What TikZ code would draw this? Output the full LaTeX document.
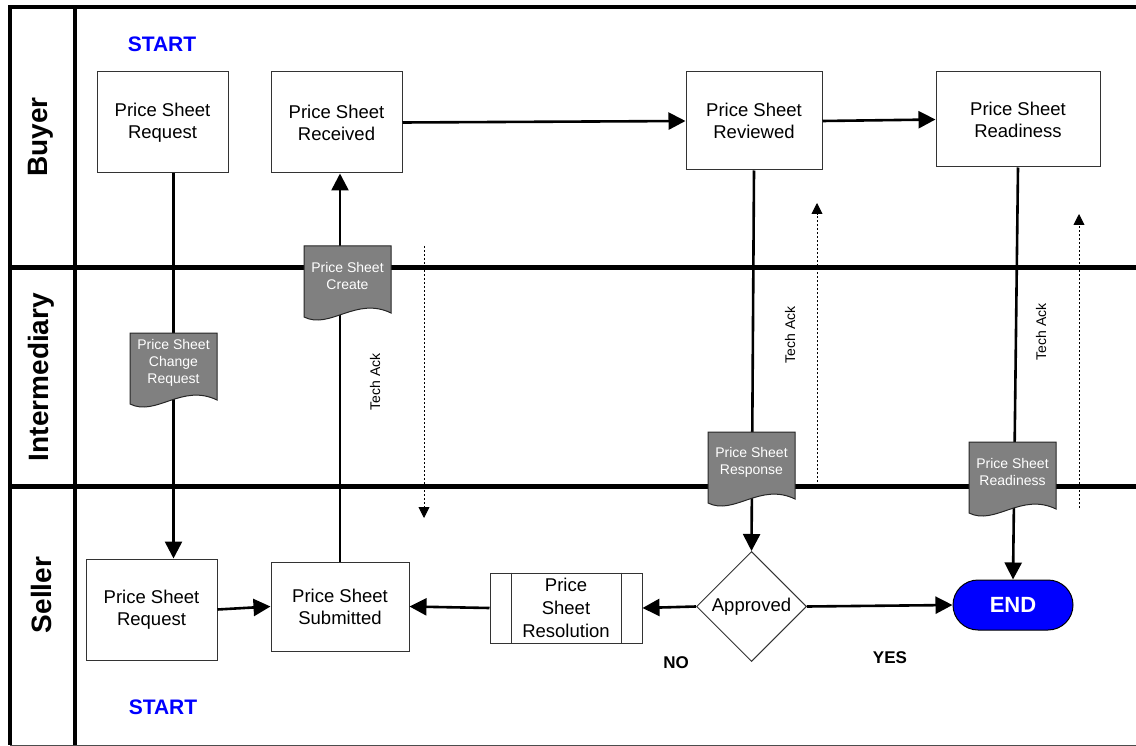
\documentclass[tikz,border=0pt]{standalone}
\usepackage{fontspec}
\setmainfont{Liberation Sans}
\usetikzlibrary{arrows.meta,shapes.geometric}

% document shape: name, x, top y, text
\newcommand{\docnode}[4]{%
  \filldraw[docshape] (#2-43.5,#3) -- (#2+43.5,#3) -- (#2+43.5,#3+67)
    .. controls (#2+8.5,#3+50) and (#2-17.5,#3+84) .. (#2-43.5,#3+71) -- cycle;
  \node[doctext] (#1) at (#2,#3+30) {#4};
}

\begin{document}
\begin{tikzpicture}[
    x=1pt, y=-1pt,
    frame/.style={line width=4pt},
    lane/.style={line width=5pt},
    lanename/.style={rotate=90, font=\bfseries\fontsize{28}{30}\selectfont},
    box/.style={draw=black!80, line width=1pt, align=center, font=\fontsize{18.5}{22}\selectfont},
    docshape/.style={fill=black!50, draw=black!85, line width=1pt},
    doctext/.style={align=center, text=white, font=\fontsize{14}{17}\selectfont},
    flow/.style={line width=2.6pt, -{Triangle[length=17pt,width=17pt]}},
    ack/.style={line width=0.9pt, dash pattern=on 2pt off 2pt, -{Triangle[length=11pt,width=11pt]}},
    acktext/.style={rotate=90, font=\fontsize{14}{17}\selectfont},
    start/.style={text=blue, font=\bfseries\fontsize{21}{24}\selectfont},
    answer/.style={font=\bfseries\fontsize{17}{20}\selectfont},
  ]
  \useasboundingbox (0,0) rectangle (1136,746);

  % lanes
  \draw[frame] (1136,7) -- (10,7) -- (10,745);
  \draw[line width=1pt, black!70] (10,745) -- (1136,745);
  \draw[frame] (75,7) -- (75,745);
  \draw[lane] (10,268) -- (1136,268);
  \draw[lane] (10,486) -- (1136,486);

  \node[lanename] (buyer) at (41,137) {Buyer};
  \node[lanename] (inter) at (41,377) {Intermediary};
  \node[lanename] (seller) at (41,595) {Seller};

  % buyer
  \node[start] (start1) at (162,44) {START};
  \node[box, minimum width=131pt, minimum height=101pt] (breq) at (162.5,122.5) {Price Sheet\\Request};
  \node[box, minimum width=131pt, minimum height=101pt] (brec) at (336.5,122.5) {Price Sheet\\Received};
  \node[box, minimum width=136pt, minimum height=98pt] (brev) at (754,121) {Price Sheet\\Reviewed};
  \node[box, minimum width=164pt, minimum height=95pt] (brdy) at (1018,119.5) {Price Sheet\\Readiness};

  % seller
  \node[box, minimum width=131pt, minimum height=101pt] (sreq) at (151.5,609.5) {Price Sheet\\Request};
  \node[box, minimum width=138pt, minimum height=89pt] (ssub) at (340,606.5) {Price Sheet\\Submitted};
  \node[box, minimum width=152pt, minimum height=70pt, font=\fontsize{18.5}{23}\selectfont] (res) at (566,608) {Price\\Sheet\\Resolution};
  \draw[draw=black!80, line width=1pt] ([xshift=22pt]res.north west) -- ([xshift=22pt]res.south west);
  \draw[draw=black!80, line width=1pt] ([xshift=-21pt]res.north east) -- ([xshift=-21pt]res.south east);
  \node[box, diamond, minimum width=110pt, minimum height=110pt, inner sep=0pt] (appr) at (751.5,606.5) {Approved};
  \node[draw=black, line width=1pt, fill=blue, rounded corners=25pt, minimum width=120pt, minimum height=50pt,
        text=white, font=\bfseries\fontsize{22}{26}\selectfont] (end) at (1013,605) {END};
  \node[start] (start2) at (163,707) {START};
  \node[answer] (no) at (676,663) {NO};
  \node[answer] (yes) at (890,658) {YES};

  % flows
  \coordinate (chgx) at (173.5,0);
  \draw[flow] (chgx |- breq.south) -- (chgx |- sreq.north);
  \draw[flow] (ssub.north) -- (ssub.north |- brec.south);
  \draw[flow] (brec.east) -- (brev.west);
  \draw[flow] (brev.east) -- (brdy.west);
  \draw[flow] (sreq.east) -- (ssub.west);
  \draw[flow] (brev.south) -- (appr.north);
  \draw[flow] (brdy.south) -- (end.north);
  \draw[flow] (appr.west) -- (res.east);
  \draw[flow] (res.west) -- (ssub.east);
  \draw[flow] (appr.east) -- (end.west);

  % tech acks
  \coordinate (ack1a) at (424,246);
  \coordinate (ack1b) at (424,518);
  \coordinate (ack2a) at (817,486);
  \coordinate (ack2b) at (817,203);
  \coordinate (ack3a) at (1079,508);
  \coordinate (ack3b) at (1079,214);
  \draw[ack] (ack1a) -- (ack1b);
  \draw[ack] (ack2a) -- (ack2b);
  \draw[ack] (ack3a) -- (ack3b);
  \node[acktext] (ack1) at (375,382) {Tech Ack};
  \node[acktext] (ack2) at (790,335) {Tech Ack};
  \node[acktext] (ack3) at (1041,332) {Tech Ack};

  % documents
  \docnode{chg}{173.5}{333}{Price Sheet\\Change\\Request}
  \docnode{create}{347.5}{246}{Price Sheet\\Create}
  \docnode{resp}{751.5}{432}{Price Sheet\\Response}
  \docnode{rdy}{1012.5}{442}{Price Sheet\\Readiness}
\end{tikzpicture}
\end{document}
